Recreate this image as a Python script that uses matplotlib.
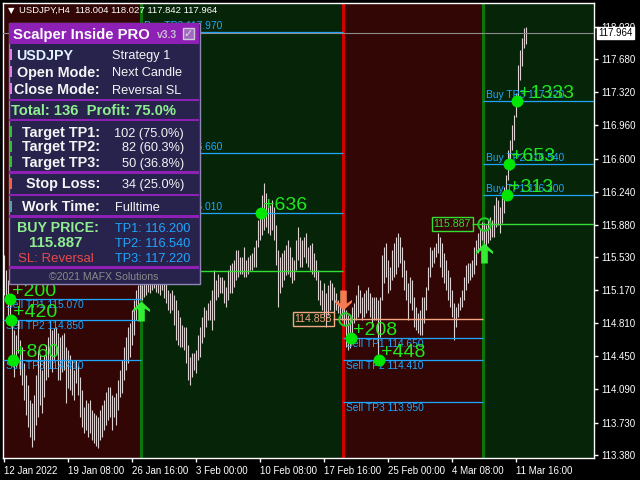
import numpy as np
import matplotlib
matplotlib.use('Agg')
import matplotlib.pyplot as plt
from matplotlib.patches import Rectangle
from matplotlib.path import Path

plt.rcParams['font.family'] = ['Liberation Sans', 'DejaVu Sans']

symbol = 'USDJPY,H4'
last_ohlc = [118.004, 118.027, 117.842, 117.964]

# H4 bars (bar 0 = 12 Jan 2022 00:00)
highs = [
    # sell run (bars 0-68)
    115.55, 115.39, 115.28, 115.12, 114.84, 114.74, 114.68, 114.84, 114.63, 114.55,
    114.38, 114.25, 114.14, 113.97, 113.94, 114.03, 114.25, 114.52, 114.46, 114.30,
    114.46, 114.57, 114.66, 114.84, 114.74, 114.76, 114.77, 114.70, 114.66, 114.68,
    114.70, 114.55, 114.52, 114.46, 114.41, 114.30, 114.41, 114.36, 114.22, 114.08,
    113.90, 113.97, 113.94, 113.97, 113.87, 113.83, 113.81, 113.79, 113.87, 113.92,
    113.97, 114.06, 114.12, 114.12, 114.03, 114.01, 114.05, 114.19, 114.30, 114.41,
    114.55, 114.66, 114.77, 114.81, 114.95, 115.06, 115.17, 115.22, 115.30,
    # buy run (bars 69-169)
    115.22, 115.25, 115.28, 115.30, 115.28, 115.31, 115.33, 115.30, 115.31, 115.28,
    115.28, 115.26, 115.25, 115.17, 115.14, 115.17, 115.12, 115.06, 114.95, 114.88,
    114.79, 114.77, 114.77, 114.57, 114.44, 114.49, 114.49, 114.52, 114.68, 114.77,
    114.88, 114.99, 114.95, 115.03, 115.06, 115.17, 115.39, 115.28, 115.35, 115.31,
    115.31, 115.28, 115.20, 115.39, 115.44, 115.46, 115.50, 115.61, 115.61, 115.53,
    115.53, 115.64, 115.50, 115.53, 115.55, 115.57, 115.64, 115.71, 115.93, 116.04,
    116.20, 116.33, 116.23, 116.12, 116.09, 116.15, 116.07, 115.88, 115.61, 115.53,
    115.57, 115.61, 115.66, 115.71, 115.64, 115.53, 115.50, 115.71, 115.86, 115.75,
    115.71, 115.75, 115.79, 115.64, 115.66, 115.68, 115.57, 115.50, 115.39, 115.28,
    115.17, 115.25, 115.14, 115.22, 115.28, 115.25, 115.20, 115.14, 115.06, 115.03,
    114.99,
    # sell run (bars 170-239)
    115.01, 114.95, 114.90, 114.88, 114.99, 115.03, 115.12, 115.22, 115.17, 115.09,
    115.14, 115.17, 115.20, 115.14, 115.09, 115.09, 115.09, 115.06, 115.09, 115.55,
    115.64, 115.68, 115.50, 115.42, 115.61, 115.68, 115.75, 115.79, 115.75, 115.64,
    115.50, 115.39, 115.25, 115.31, 115.28, 115.09, 114.99, 114.92, 114.95, 115.09,
    115.09, 115.20, 115.42, 115.64, 115.61, 115.64, 115.68, 115.79, 115.75, 115.68,
    115.57, 115.50, 115.39, 115.31, 115.17, 115.03, 114.99, 115.03, 115.09, 115.17,
    115.31, 115.44, 115.46, 115.46, 115.50, 115.64, 115.71, 115.79, 115.84, 115.91,
    # buy run (bars 240-261)
    115.90, 115.88, 115.93, 115.96, 115.93, 116.09, 116.18, 116.15, 116.07, 116.23,
    116.29, 116.42, 116.69, 116.80, 116.96, 117.07, 117.31, 117.62, 117.78, 117.91,
    118.02, 118.027,
]
lows = [
    115.12, 115.04, 114.84, 114.79, 114.36, 114.22, 114.33, 114.49, 114.25, 114.14,
    113.97, 113.81, 113.68, 113.57, 113.46, 113.54, 113.70, 113.79, 113.92, 113.83,
    114.01, 114.19, 114.22, 114.33, 114.28, 114.41, 114.46, 114.19, 114.19, 114.28,
    114.30, 113.94, 114.11, 114.08, 114.03, 113.97, 114.16, 114.03, 113.79, 113.68,
    113.62, 113.65, 113.57, 113.62, 113.54, 113.51, 113.48, 113.45, 113.54, 113.57,
    113.65, 113.70, 113.76, 113.79, 113.65, 113.79, 113.70, 113.87, 114.01, 114.05,
    114.19, 114.30, 114.38, 114.44, 114.57, 114.68, 114.84, 114.95, 115.06,
    115.06, 115.09, 115.12, 115.15, 115.14, 115.17, 115.19, 115.15, 115.14, 115.12,
    115.17, 115.08, 115.03, 114.95, 114.92, 114.95, 114.79, 114.63, 114.57, 114.55,
    114.55, 114.52, 114.38, 114.19, 114.14, 114.22, 114.30, 114.27, 114.41, 114.44,
    114.60, 114.66, 114.77, 114.84, 114.84, 114.74, 114.84, 115.06, 115.09, 115.14,
    115.14, 115.03, 114.99, 115.06, 115.14, 115.14, 115.20, 115.28, 115.31, 115.35,
    115.35, 115.31, 115.31, 115.35, 115.39, 115.39, 115.42, 115.42, 115.64, 115.71,
    115.77, 115.82, 115.86, 115.79, 115.77, 115.82, 115.71, 115.44, 114.99, 115.14,
    115.20, 115.28, 115.33, 115.35, 115.31, 115.25, 115.28, 115.39, 115.50, 115.42,
    115.42, 115.53, 115.46, 115.42, 115.39, 115.35, 115.31, 115.28, 115.06, 115.01,
    114.95, 114.88, 114.77, 114.90, 114.95, 115.06, 114.92, 114.95, 114.92, 114.87,
    114.84,
    114.79, 114.55, 114.52, 114.54, 114.66, 114.81, 114.84, 114.88, 114.92, 114.84,
    114.88, 114.92, 114.95, 114.88, 114.77, 114.84, 114.84, 114.39, 114.66, 115.06,
    115.25, 115.31, 115.14, 115.17, 115.28, 115.31, 115.35, 115.42, 115.46, 115.31,
    115.17, 115.06, 114.84, 115.03, 114.95, 114.77, 114.74, 114.70, 114.68, 114.68,
    114.81, 114.95, 115.17, 115.31, 115.42, 115.46, 115.53, 115.57, 115.42, 115.31,
    115.25, 115.17, 115.06, 114.99, 114.88, 114.63, 114.77, 114.88, 114.95, 114.99,
    115.06, 115.17, 115.25, 115.28, 115.31, 115.35, 115.44, 115.57, 115.63, 115.71,
    115.50, 115.61, 115.68, 115.71, 115.75, 115.75, 115.86, 115.88, 115.79, 115.90,
    116.01, 116.15, 116.37, 116.47, 116.69, 116.80, 117.05, 117.20, 117.45, 117.60,
    117.80, 117.842,
]

date_ticks = [0, 32, 64, 96, 128, 160, 192, 224, 256]
date_labels = ['12 Jan 2022', '19 Jan 08:00', '26 Jan 16:00', '3 Feb 00:00', '10 Feb 08:00',
               '17 Feb 16:00', '25 Feb 00:00', '4 Mar 08:00', '11 Mar 16:00']
price_ticks = [118.030, 117.680, 117.320, 116.960, 116.600, 116.240, 115.880,
               115.530, 115.170, 114.810, 114.450, 114.090, 113.730, 113.380]

# signals / trades
trade_sides = ['Sell', 'Buy', 'Sell', 'Buy']
trade_start = [-0.5, 68.5, 169.5, 239.5]
trade_end = [68.5, 169.5, 239.5, 295]
entry_bars = [None, 68.5, 170.5, 240]
entry_prices = [None, 115.374, 114.858, 115.887]
trade_tps = [[115.070, 114.850, 114.410],
             [116.010, 116.660, 117.970],
             [114.650, 114.410, 113.950],
             [116.200, 116.540, 117.220]]
hit_bars = [[3, 3.5, 4.5], [128.5], [173.5, 187.5], [251.5, 252.5, 256.5]]
hit_pips = [[200, 420, 860], [636], [208, 448], [313, 653, 1333]]
arrow_bars = [68.5, 169.5, 240]
arrow_prices = [114.94, 115.06, 115.57]
arrow_sides = ['Buy', 'Sell', 'Buy']

# panel stats
total_trades = 136
tp_counts = [102, 82, 50]
sl_count = 34

bg_colors = {'Sell': '#330606', 'Buy': '#062408'}
signal_colors = {'Sell': '#d40000', 'Buy': '#0a760a'}
entry_colors = {'Sell': '#f4a582', 'Buy': '#33dd33'}
arrow_colors = {'Sell': '#f47a52', 'Buy': '#33ee33'}
tp_color = '#1ea6ff'
hit_color = '#1ee81e'

fig = plt.figure(figsize=(6.4, 4.8), dpi=100, facecolor='black')
ax = fig.add_axes([3 / 640, 22 / 480, 591 / 640, 455 / 480])
ax.set_facecolor('black')
ax.set_xlim(-0.5, 295)
ax.set_ylim(113.345, 118.29)

for side, s, e in zip(trade_sides, trade_start, trade_end):
    ax.axvspan(s, e, color=bg_colors[side], lw=0, zorder=0)
for side, s in zip(trade_sides[1:], trade_start[1:]):
    ax.axvline(s, color=signal_colors[side], lw=2.2, zorder=1)

bars = np.arange(len(highs))
ax.vlines(bars, lows, highs, colors='#ddd0d0', lw=0.8, zorder=2)

# take-profit levels
for k, side in enumerate(trade_sides):
    for n, tp in enumerate(trade_tps[k]):
        ax.hlines(tp, trade_start[k], trade_end[k], colors=tp_color, lw=0.9, zorder=3)
        if side == 'Sell':
            ax.annotate(f'Sell TP{n + 1} {tp:.3f}', (trade_start[k], tp), xytext=(3, -1),
                        textcoords='offset pixels', ha='left', va='top',
                        fontsize=7.4, color=tp_color, zorder=4)
        else:
            ax.annotate(f'Buy TP{n + 1} {tp:.3f}', (trade_start[k], tp), xytext=(3, 1),
                        textcoords='offset pixels', ha='left', va='bottom',
                        fontsize=7.4, color=tp_color, zorder=4)

ax.axhline(last_ohlc[3], color='#8c8c8c', lw=0.8, zorder=3)

# entries
for k, side in enumerate(trade_sides):
    if entry_bars[k] is None:
        continue
    col = entry_colors[side]
    ax.hlines(entry_prices[k], entry_bars[k] - 6, trade_end[k], colors=col, lw=1, zorder=3)
    ax.plot(entry_bars[k], entry_prices[k], 'o', mfc='none', mec='#22cc22', ms=9, mew=1.4, zorder=5)
    ax.annotate(f'{entry_prices[k]:.3f}', (entry_bars[k], entry_prices[k]), xytext=(-13, 0),
                textcoords='offset pixels', ha='right', va='center', fontsize=7.6, color=col,
                bbox=dict(boxstyle='square,pad=0.2', fc='none', ec=col, lw=1), zorder=4)

# hits
for k in range(len(trade_sides)):
    for b, tp, pip in zip(hit_bars[k], trade_tps[k], hit_pips[k]):
        ax.plot(b, tp, 'o', ms=8.6, color='#00e600', mec='none', zorder=6)
        ax.annotate(f'+{pip}', (b, tp), xytext=(2, 3), textcoords='offset pixels',
                    ha='left', va='baseline', fontsize=14, color=hit_color, zorder=7)

# signal arrows
up_verts = [(0, 1), (0.85, 0.2), (0.85, -0.05), (0.33, 0.3), (0.33, -1),
            (-0.33, -1), (-0.33, 0.3), (-0.85, -0.05), (-0.85, 0.2), (0, 1)]
up_arrow = Path(up_verts)
down_arrow = Path([(x, -y) for x, y in up_verts])
for b, p, side in zip(arrow_bars, arrow_prices, arrow_sides):
    ax.plot(b, p, marker=up_arrow if side == 'Buy' else down_arrow, ms=14.4,
            color=arrow_colors[side], mec='none', zorder=6)

for sp in ax.spines.values():
    sp.set_color('white')
    sp.set_linewidth(1)
ax.yaxis.tick_right()
ax.set_yticks(price_ticks)
ax.set_yticklabels([f'{p:.3f}' for p in price_ticks])
ax.set_xticks(date_ticks)
ax.set_xticklabels(date_labels, ha='left')
ax.tick_params(colors='white', labelsize=7, length=3, width=1, pad=2.5)

ax.annotate(f'{last_ohlc[3]:.3f}', xy=(1, last_ohlc[3]), xycoords=('axes fraction', 'data'),
            xytext=(4, 0), textcoords='offset pixels', ha='left', va='center', fontsize=7,
            color='black', bbox=dict(boxstyle='square,pad=0.15', fc='white', ec='white'),
            zorder=10, annotation_clip=False)

# overlay: title and info panel, in pixel coordinates
ui = fig.add_axes([0, 0, 1, 1], zorder=10)
ui.set_xlim(0, 640)
ui.set_ylim(480, 0)
ui.set_axis_off()

ui.text(8, 10.5, '\u25bc', fontsize=6, color='white', va='center', family=['DejaVu Sans'])
ui.text(19, 10.5, f'{symbol}  ' + ' '.join(f'{v:.3f}' for v in last_ohlc),
        fontsize=6.8, color='white', va='center')

panel_bg = '#27234d'
purple = '#8e20b6'
white = '#f4f4f4'
green_txt = '#90ee90'
ui.add_patch(Rectangle((8.5, 22.5), 191, 261, fc=panel_bg, ec='#8d86b5', lw=1))
ui.add_patch(Rectangle((9, 23), 190, 20.5, fc=purple, lw=0))
for y in [98.5, 118.5, 171, 193.5, 215, 266]:
    ui.add_patch(Rectangle((9, y), 190, 2.5, fc=purple, lw=0))

ui.text(13, 38.5, 'Scalper Inside PRO', fontsize=10.7, weight='bold', color='white')
ui.text(157, 37.5, 'v3.3', fontsize=7.4, weight='bold', color='#c8c0d0')
ui.add_patch(Rectangle((183, 28), 11, 11, fc='#a06ac0', ec='#d0c8d8', lw=1))
ui.text(188.5, 34, '\u2713', fontsize=8, color='#e0d8e8', ha='center', va='center',
        family=['DejaVu Sans'])

marker_rows = [(54, '#e67ee6'), (71, '#e67ee6'), (88, '#e67ee6'), (131, '#2fc12f'),
               (146, '#2fc12f'), (161, '#2fc12f'), (183, '#f0604a'), (206, '#5aa0a8')]
for yc, c in marker_rows:
    ui.add_patch(Rectangle((9.5, yc - 5.5), 2.5, 11, fc=c, lw=0))

ui.text(16, 59.5, 'USDJPY', fontsize=10.3, weight='bold', color='#e0f2ff')
ui.text(112, 59.5, 'Strategy 1', fontsize=9.2, color=white)
ui.text(100, 76.5, 'Open Mode:', fontsize=10.4, weight='bold', color=white, ha='right')
ui.text(112, 76.5, 'Next Candle', fontsize=9.2, color=white)
ui.text(100, 93.5, 'Close Mode:', fontsize=10.4, weight='bold', color=white, ha='right')
ui.text(112, 93.5, 'Reversal SL', fontsize=9.2, color=white)

win_rate = tp_counts[0] / total_trades * 100
ui.text(11, 115, f'Total: {total_trades}  Profit: {win_rate:.1f}%', fontsize=10.6,
        weight='bold', color=green_txt)

for n, (cnt, yb) in enumerate(zip(tp_counts, [136.5, 151.5, 166.5])):
    ui.text(100, yb, f'Target TP{n + 1}:', fontsize=10.4, weight='bold', color=white, ha='right')
    ui.text(184, yb, f'{cnt} ({cnt / total_trades * 100:.1f}%)', fontsize=9.2, color=white, ha='right')
ui.text(100, 188, 'Stop Loss:', fontsize=10.4, weight='bold', color=white, ha='right')
ui.text(184, 188, f'{sl_count} ({sl_count / total_trades * 100:.1f}%)', fontsize=9.2,
        color=white, ha='right')
ui.text(100, 211, 'Work Time:', fontsize=10.4, weight='bold', color=white, ha='right')
ui.text(115, 211, 'Fulltime', fontsize=9.2, color=white)

ui.text(57.5, 232, 'BUY PRICE:', fontsize=10.2, weight='bold', color=green_txt, ha='center')
ui.text(56, 247, f'{entry_prices[3]:.3f}', fontsize=10.8, weight='bold', color=green_txt, ha='center')
ui.text(56, 262, 'SL: Reversal', fontsize=9.5, color='#e84a4a', ha='center')
for n, (tp, yb) in enumerate(zip(trade_tps[3], [232, 247, 262])):
    ui.text(115, yb, f'TP{n + 1}: {tp:.3f}', fontsize=9.2, color=tp_color)
ui.text(104, 280, '\u00a92021 MAFX Solutions', fontsize=7.6, color='#8a8a8a', ha='center')

fig.savefig('out.png', dpi=100, facecolor='black')
